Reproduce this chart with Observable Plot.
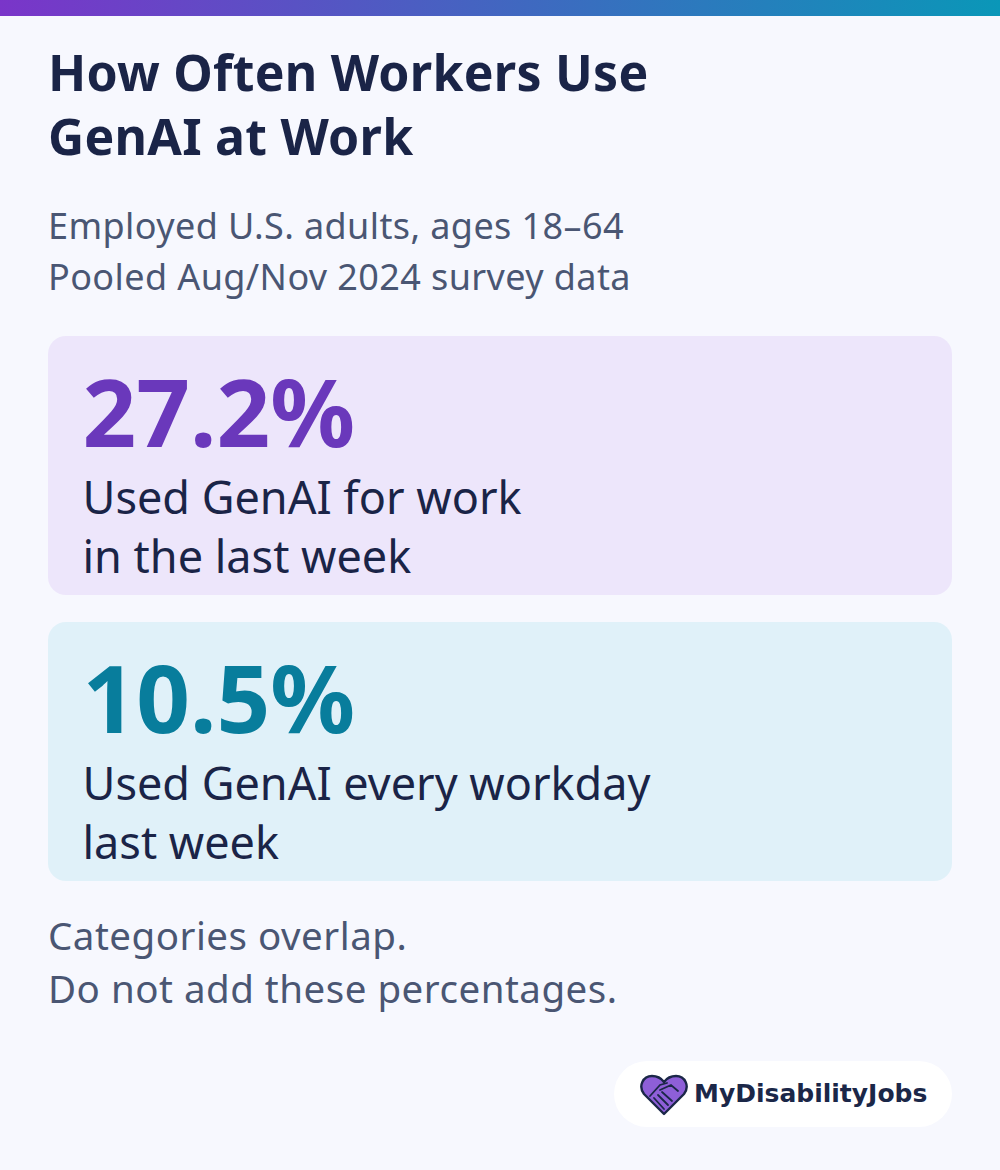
<!DOCTYPE html>
<html lang="en">
<head>
<meta charset="utf-8">
<title>How Often Workers Use GenAI at Work</title>
<script src="https://cdn.jsdelivr.net/npm/d3@7"></script>
<script src="https://cdn.jsdelivr.net/npm/@observablehq/plot@0.6"></script>
<style>
  html, body { margin: 0; padding: 0; background: #f7f8fe; }
  body { width: 1000px; height: 1170px; position: relative; overflow: hidden; font-family: "Noto Sans", sans-serif; }
  #bar { position: absolute; left: 0; top: 0; width: 1000px; height: 16px; background: linear-gradient(90deg, #7a35c9, #0a97b8); }
  h1 { position: absolute; left: 48px; top: 40px; margin: 0; font-size: 50px; line-height: 64px; font-weight: 700; color: #1a2447; letter-spacing: 0.25px; }
  #sub { position: absolute; left: 48px; top: 199.5px; font-size: 36px; line-height: 51px; letter-spacing: 0.4px; color: #4a5673; }
  #chart { position: absolute; left: 0; top: 336px; }
  #note { position: absolute; left: 48px; top: 909px; font-size: 38.5px; line-height: 53px; letter-spacing: 0.5px; color: #4a5673; }
  #logo { position: absolute; left: 614px; top: 1061px; width: 338px; height: 66px; border-radius: 33px; background: #fff; }
  #logo svg { position: absolute; left: 26px; top: 13px; }
  #logo span { position: absolute; left: 80px; top: 16px; font-family: "DejaVu Sans", sans-serif; font-weight: 700; font-size: 25px; line-height: 33px; color: #1b2748; white-space: nowrap; }
</style>
</head>
<body>
<div id="bar"></div>
<h1>How Often Workers Use<br>GenAI at Work</h1>
<div id="sub">Employed U.S. adults, ages 18–64<br>Pooled Aug/Nov 2024 survey data</div>
<div id="chart"></div>
<div id="note">Categories overlap.<br>Do not add these percentages.</div>
<div id="logo">
  <svg width="48" height="42" viewBox="0 0 48 42">
    <path d="M24 40 L4 20 C-2 12 3 2 12 2 C17 2 21 4 24 8 C27 4 31 2 36 2 C45 2 50 12 44 20 Z" fill="#8e5fd8" stroke="#1b2748" stroke-width="2.4" stroke-linejoin="round"/>
    <path d="M10 22 L20 11 L27 9 M20 16 L31 11 L38 17 M14 24 L24 35 M18 21 L28 31 M22 18 L32 27" fill="none" stroke="#1b2748" stroke-width="1.8" stroke-linecap="round"/>
  </svg>
  <span>MyDisabilityJobs</span>
</div>
<script>
const categories = ["last week", "every workday"];
const values = [27.2, 10.5];
const descriptions = ["Used GenAI for work\nin the last week", "Used GenAI every workday\nlast week"];
const cardColors = ["#ede6fb", "#e0f1f9"];
const numberColors = ["#6a38bb", "#087d9c"];

const rows = categories.map((c, i) => ({
  category: c,
  value: values[i],
  label: values[i].toFixed(1) + "%",
  description: descriptions[i],
  card: cardColors[i],
  number: numberColors[i]
}));

const chart = Plot.plot({
  width: 1000,
  height: 545,
  margin: 0,
  style: { background: "transparent", fontFamily: "'Noto Sans', sans-serif" },
  x: { axis: null, domain: [0, 1], range: [48, 952] },
  y: { axis: null, domain: categories, range: [0, 545], paddingInner: 0.0945, paddingOuter: 0 },
  marks: [
    Plot.barX(rows, { x1: 0, x2: 1, y: "category", fill: "card", rx: 18 }),
    Plot.text(rows, {
      x: 0, y: "category", text: "label", fill: "number",
      textAnchor: "start", dx: 34, dy: -49,
      fontSize: 94, fontWeight: 700
    }),
    Plot.text(rows, {
      x: 0, y: "category", text: "description", fill: "#1a2447",
      textAnchor: "start", dx: 34, dy: 59,
      fontSize: 45, lineHeight: 1.31
    })
  ]
});
document.getElementById("chart").appendChild(chart);
</script>
</body>
</html>
